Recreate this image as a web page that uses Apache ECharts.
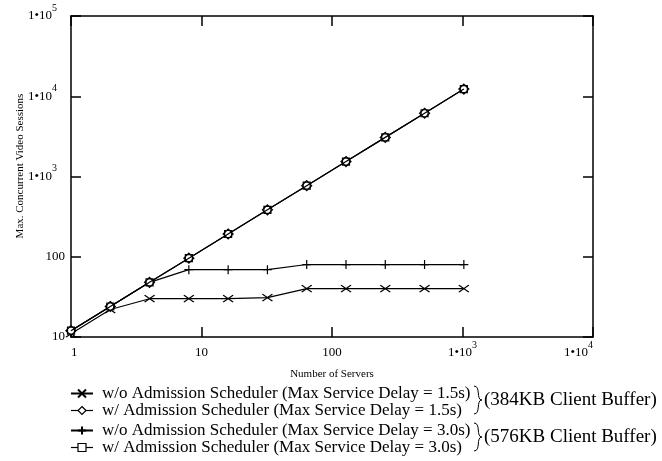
<!DOCTYPE html>
<html>
<head>
<meta charset="utf-8">
<script src="https://cdn.jsdelivr.net/npm/echarts@6/dist/echarts.min.js"></script>
<style>
  html, body { margin: 0; padding: 0; background: #fff; }
  #chart { width: 662px; height: 461px; }
</style>
</head>
<body>
<div id="chart"></div>
<script>
// Number of servers (x values)
const servers = [1, 2, 4, 8, 16, 32, 64, 128, 256, 512, 1024];

// Max. concurrent video sessions per configuration
const woSched15 = [11, 22, 30, 30, 30, 31, 40, 40, 40, 40, 40];
const wSched15  = [12, 24, 48, 96, 192, 384, 768, 1536, 3072, 6144, 12288];
const woSched30 = [12, 24, 48, 69, 69, 69, 80, 80, 80, 80, 80];
const wSched30  = [12, 24, 48, 96, 192, 384, 768, 1536, 3072, 6144, 12288];

const seriesNames = [
  'w/o Admission Scheduler (Max Service Delay = 1.5s)',
  'w/ Admission Scheduler (Max Service Delay = 1.5s)',
  'w/o Admission Scheduler (Max Service Delay = 3.0s)',
  'w/ Admission Scheduler (Max Service Delay = 3.0s)'
];
const bufferLabels = ['(384KB Client Buffer)', '(576KB Client Buffer)'];
const xAxisTitle = 'Number of Servers';
const yAxisTitle = 'Max. Concurrent Video Sessions';

const FONT = 'Liberation Serif, Times New Roman, serif';

function powLabel(v) {
  const e = Math.round(Math.log10(v));
  if (e < 3) return '{b|' + Math.round(Math.pow(10, e)) + '}';
  return '{b|1\u202210}{s|' + e + '}';
}

function richFor(padRight) {
  return {
    b: { fontFamily: FONT, fontSize: 13, color: '#000', lineHeight: 26 },
    s: { fontFamily: FONT, fontSize: 10, color: '#000', verticalAlign: 'top', lineHeight: 10, padding: [0, padRight, 0, 0] }
  };
}

const axisLineStyle = { show: true, lineStyle: { color: '#000', width: 1.5 } };
const tickStyle = { show: true, inside: true, length: 10, lineStyle: { color: '#000', width: 1.5 } };

function pairs(ys) { return servers.map((x, i) => [x, ys[i]]); }

// curly brace "}" built from two cubic halves, top at y0, bottom at y1
function brace(x, y0, y1, depth) {
  const ym = (y0 + y1) / 2;
  const style = { stroke: '#000', lineWidth: 1, fill: null };
  return [
    { type: 'bezierCurve', silent: true,
      shape: { x1: x, y1: y0, cpx1: x + depth * 0.9, cpy1: y0, cpx2: x + depth * 0.2, cpy2: ym, x2: x + depth, y2: ym },
      style: style },
    { type: 'bezierCurve', silent: true,
      shape: { x1: x + depth, y1: ym, cpx1: x + depth * 0.2, cpy1: ym, cpx2: x + depth * 0.9, cpy2: y1, x2: x, y2: y1 },
      style: style }
  ];
}

const baseSeries = {
  type: 'line',
  showSymbol: true,
  lineStyle: { color: '#000', width: 1.2 },
  itemStyle: { color: '#fff', borderColor: '#000', borderWidth: 1.2 },
  emphasis: { disabled: true },
  z: 3
};

const legendText = { fontFamily: FONT, fontSize: 17, color: '#000', lineHeight: 17, padding: [0, 0, 0, 4] };
const hollowIcon = { color: '#fff', borderColor: '#000', borderWidth: 1.2 };
const iconLine = { color: '#000', width: 1.2 };

const chart = echarts.init(document.getElementById('chart'), null, { renderer: 'canvas' });

chart.setOption({
  animation: false,
  backgroundColor: '#fff',
  grid: { left: 71, right: 69, top: 16, bottom: 124 },
  xAxis: [
    {
      type: 'log', logBase: 10, min: 1, max: 10000, position: 'bottom',
      axisLine: axisLineStyle, axisTick: tickStyle, minorTick: { show: false },
      splitLine: { show: false },
      axisLabel: {
        formatter: powLabel, rich: richFor(0), margin: 3,
        alignMinLabel: 'left', alignMaxLabel: 'right'
      },
      name: xAxisTitle, nameLocation: 'middle', nameGap: 32,
      nameTextStyle: { fontFamily: FONT, fontSize: 11, color: '#000' }
    },
    {
      type: 'log', logBase: 10, min: 1, max: 10000, position: 'top',
      axisLine: axisLineStyle, axisTick: tickStyle,
      axisLabel: { show: false }, splitLine: { show: false }
    }
  ],
  yAxis: [
    {
      type: 'log', logBase: 10, min: 10, max: 100000, position: 'left',
      axisLine: axisLineStyle, axisTick: tickStyle, minorTick: { show: false },
      splitLine: { show: false },
      axisLabel: { formatter: powLabel, rich: richFor(8), margin: 6 }
    },
    {
      type: 'log', logBase: 10, min: 10, max: 100000, position: 'right',
      axisLine: axisLineStyle, axisTick: tickStyle,
      axisLabel: { show: false }, splitLine: { show: false }
    }
  ],
  legend: [
    {
      orient: 'vertical', left: 70, top: 385, height: 40, padding: 0,
      itemWidth: 22, itemHeight: 10, itemGap: 0,
      textStyle: legendText,
      data: [
        { name: seriesNames[0] },
        { name: seriesNames[1], itemStyle: hollowIcon, lineStyle: iconLine }
      ]
    },
    {
      orient: 'vertical', left: 70, top: 422, height: 40, padding: 0,
      itemWidth: 22, itemHeight: 10, itemGap: 0,
      textStyle: legendText,
      data: [
        { name: seriesNames[2] },
        { name: seriesNames[3], itemStyle: hollowIcon, lineStyle: iconLine }
      ]
    }
  ],
  series: [
    Object.assign({}, baseSeries, {
      name: seriesNames[0], data: pairs(woSched15),
      symbol: 'path://M0,0L10,7M10,0L0,7', symbolSize: [10, 7]
    }),
    Object.assign({}, baseSeries, {
      name: seriesNames[1], data: pairs(wSched15),
      symbol: 'diamond', symbolSize: 10, z: 5,
      itemStyle: { color: 'rgba(255,255,255,0)', borderColor: '#000', borderWidth: 1.2 }
    }),
    Object.assign({}, baseSeries, {
      name: seriesNames[2], data: pairs(woSched30),
      symbol: 'path://M0,4L8,4M4,0L4,8', symbolSize: 9
    }),
    Object.assign({}, baseSeries, {
      name: seriesNames[3], data: pairs(wSched30),
      symbol: 'rect', symbolSize: 7, z: 4
    })
  ],
  graphic: [
    {
      type: 'text', x: 20, y: 166, rotation: Math.PI / 2,
      style: { text: yAxisTitle, font: '11px ' + FONT, fill: '#000', align: 'center', verticalAlign: 'middle' }
    }
  ].concat(brace(474, 386, 414, 8), brace(474, 423, 451, 8), [
    {
      type: 'text', x: 484, y: 400,
      style: { text: bufferLabels[0], font: '19px ' + FONT, fill: '#000', verticalAlign: 'middle' }
    },
    {
      type: 'text', x: 484, y: 437,
      style: { text: bufferLabels[1], font: '19px ' + FONT, fill: '#000', verticalAlign: 'middle' }
    }
  ])
});
</script>
</body>
</html>
